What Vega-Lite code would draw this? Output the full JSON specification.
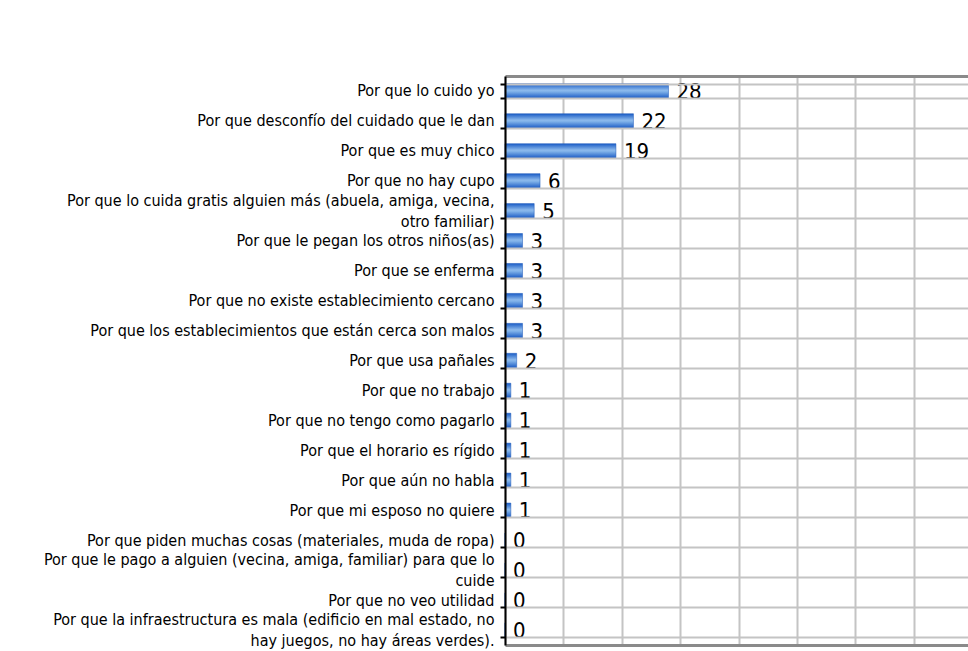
{
  "$schema": "https://vega.github.io/schema/vega-lite/v6.json",
  "autosize": {"type": "none"},
  "padding": {"left": 505, "top": 76, "right": 0, "bottom": 6},
  "width": 463,
  "height": 569,
  "background": "white",
  "config": {
    "view": {"stroke": null},
    "font": "DejaVu Sans Condensed"
  },
  "data": {
    "values": [
      {"motivo": "Por que lo cuido yo", "n": 28},
      {"motivo": "Por que desconfío del cuidado que le dan", "n": 22},
      {"motivo": "Por que es muy chico", "n": 19},
      {"motivo": "Por que no hay cupo", "n": 6},
      {"motivo": "Por que lo cuida gratis alguien más (abuela, amiga, vecina,|otro familiar)", "n": 5},
      {"motivo": "Por que le pegan los otros niños(as)", "n": 3},
      {"motivo": "Por que se enferma", "n": 3},
      {"motivo": "Por que no existe establecimiento cercano", "n": 3},
      {"motivo": "Por que los establecimientos que están cerca son malos", "n": 3},
      {"motivo": "Por que usa pañales", "n": 2},
      {"motivo": "Por que no trabajo", "n": 1},
      {"motivo": "Por que no tengo como pagarlo", "n": 1},
      {"motivo": "Por que el horario es rígido", "n": 1},
      {"motivo": "Por que aún no habla", "n": 1},
      {"motivo": "Por que mi esposo no quiere", "n": 1},
      {"motivo": "Por que piden muchas cosas (materiales, muda de ropa)", "n": 0},
      {"motivo": "Por que le pago a alguien (vecina, amiga, familiar) para que lo|cuide", "n": 0},
      {"motivo": "Por que no veo utilidad", "n": 0},
      {"motivo": "Por que la infraestructura es mala (edificio en mal estado, no|hay juegos, no hay áreas verdes).", "n": 0}
    ]
  },
  "encoding": {
    "y": {
      "field": "motivo",
      "type": "nominal",
      "sort": null,
      "title": null,
      "scale": {"paddingInner": 0.52, "paddingOuter": 0.26},
      "axis": {
        "labelExpr": "split(datum.label, '|')",
        "labelFont": "DejaVu Sans Condensed",
        "labelFontSize": 16,
        "labelColor": "#000000",
        "labelLineHeight": 21,
        "labelLimit": 0,
        "labelPadding": 6,
        "labelOffset": {"condition": {"test": "indexof('' + datum.value, '|') >= 0", "value": -10.5}, "value": 0},
        "tickBand": "extent",
        "tickSize": 5,
        "tickColor": "#000000",
        "tickWidth": 2,
        "domainColor": "#000000",
        "domainWidth": 2,
        "grid": true,
        "gridColor": "#c4c4c4",
        "gridWidth": 2,
        "zindex": 1
      }
    },
    "x": {
      "field": "n",
      "type": "quantitative",
      "title": null,
      "scale": {"domain": [0, 79.3], "nice": false, "zero": true}
    }
  },
  "layer": [
    {
      "mark": {
        "type": "bar",
        "stroke": "#1a56b8",
        "strokeWidth": 0.5,
        "color": {
          "gradient": "linear",
          "x1": 0, "y1": 0, "x2": 0, "y2": 1,
          "stops": [
            {"offset": 0, "color": "#1a5cc6"},
            {"offset": 0.45, "color": "#8dbaec"},
            {"offset": 0.55, "color": "#7eb0e8"},
            {"offset": 1, "color": "#1a5ac4"}
          ]
        }
      },
      "encoding": {
        "x": {
          "field": "n",
          "type": "quantitative",
          "axis": {
            "orient": "top",
            "values": [0, 10, 20, 30, 40, 50, 60, 70],
            "labels": false,
            "ticks": false,
            "domain": true,
            "domainColor": "#8a8a8a",
            "domainWidth": 3,
            "grid": true,
            "gridColor": "#c4c4c4",
            "gridWidth": 2,
            "title": null
          }
        }
      }
    },
    {
      "mark": {
        "type": "text",
        "align": "left",
        "baseline": "middle",
        "dx": 8,
        "dy": 1,
        "fontSize": 22,
        "font": "DejaVu Sans Condensed",
        "color": "#000000"
      },
      "encoding": {
        "text": {"field": "n", "type": "quantitative"},
        "x": {
          "field": "n",
          "type": "quantitative",
          "axis": {
            "orient": "bottom",
            "labels": false,
            "ticks": false,
            "grid": false,
            "domain": true,
            "domainColor": "#8a8a8a",
            "domainWidth": 3,
            "title": null
          }
        }
      }
    }
  ],
  "resolve": {"axis": {"x": "independent"}}
}
